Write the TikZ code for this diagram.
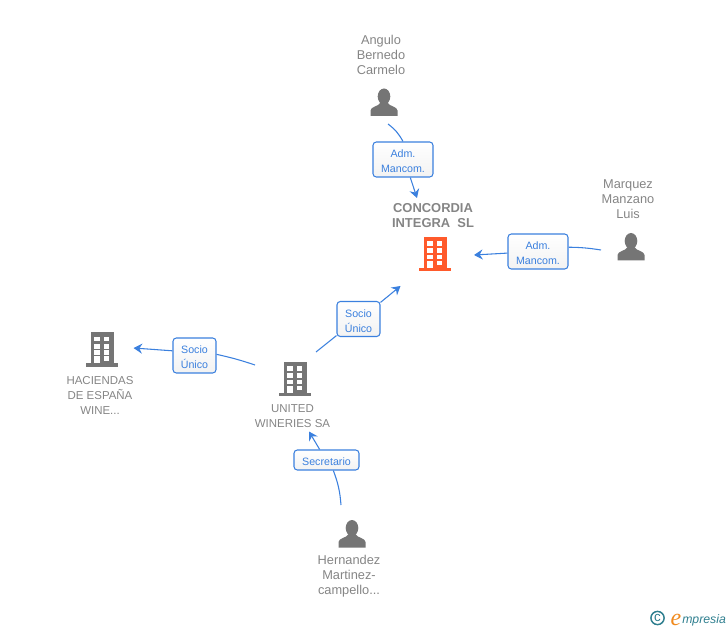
\documentclass[tikz,border=0pt]{standalone}
\usepackage{fontspec}
\setmainfont{Liberation Sans}
\newfontfamily\logofont{Liberation Serif}
\usetikzlibrary{arrows.meta}
\definecolor{linkblue}{HTML}{3B80DE}
\definecolor{iconorange}{HTML}{FF5A2B}
\definecolor{icongrey}{HTML}{757575}
\definecolor{namegrey}{HTML}{858585}
\definecolor{logoteal}{HTML}{2F7F8F}
\definecolor{logoorange}{HTML}{F08A1E}
\newcommand\rolestrut{\rule{0pt}{8.8pt}}
\tikzset{
  link/.style={draw=linkblue,line width=0.8pt},
  arrowlink/.style={link,-{Stealth[length=6.5pt,width=7.5pt,inset=2.2pt]}},
  rolebox/.style={draw=linkblue,line width=0.8pt,rounded corners=2.5pt,top color=white,bottom color=black!5,
    text=linkblue,font=\fontsize{8}{11.25}\selectfont,align=center,inner sep=0pt},
  namelabel/.style={text=namegrey,font=\fontsize{9.6}{11.25}\selectfont,align=center,inner sep=0pt},
  capslabel/.style={namelabel,font=\fontsize{8.6}{11.25}\selectfont},
  building/.pic={
    \fill[pic actions] (-11.5,-16.5) rectangle (11.5,14.5);
    \fill[pic actions] (-16,14.5) rectangle (16,18);
    \foreach \wy in {-10,-2.8,3.5}{
      \fill[white] (-7.7,\wy-2.4) rectangle (-2.4,\wy+2.4);
      \fill[white] (2,\wy-2.4) rectangle (7.4,\wy+2.4);
    }
    \fill[white] (-7.7,7.5) rectangle (-2.4,14.5);
    \fill[white] (2,7.5) rectangle (7.4,12);
  },
  person/.pic={
    \fill[pic actions] (0,-6) ellipse[x radius=6.3,y radius=8];
    \fill[pic actions] (-13.5,13.5) -- (-13.5,8) .. controls (-13.5,4) and (-5,4) .. (-3.5,0)
      -- (3.5,0) .. controls (5,4) and (13.5,4) .. (13.5,8) -- (13.5,13.5) -- cycle;
  }
}
\begin{document}
\begin{tikzpicture}[x=0.75pt,y=-0.75pt]
\useasboundingbox (0,0) rectangle (728,630);
% icons
\pic (concordiaIcon) [fill=iconorange] at (435,253.5) {building};
\pic (unitedIcon) [fill=icongrey] at (295,378.5) {building};
\pic (haciendasIcon) [fill=icongrey] at (102,349) {building};
\pic (anguloIcon) [fill=icongrey] at (384,102.5) {person};
\pic (marquezIcon) [fill=icongrey] at (631,247) {person};
\pic (hernandezIcon) [fill=icongrey] at (352,534) {person};
% names
\node[namelabel] (angulo) at (381,55) {Angulo\\Bernedo\\Carmelo};
\node[namelabel] (marquez) at (628,199) {Marquez\\Manzano\\Luis};
\node[namelabel,font=\fontsize{9.7}{11.25}\selectfont\bfseries] (concordia) at (433,216) {CONCORDIA\\INTEGRA\ \ SL};
\node[capslabel] (united) at (292.5,416.5) {UNITED\\WINERIES SA};
\node[capslabel] (haciendas) at (100,395) {HACIENDAS\\DE ESPAÑA\\WINE...};
\node[namelabel] (hernandez) at (349,576) {Hernandez\\Martinez-\\campello...};
% role boxes
\node[rolebox,minimum width=45pt,minimum height=26.25pt] (admTop) at (403,159.5) {\rolestrut Adm.\\Mancom.};
\node[rolebox,minimum width=45pt,minimum height=26.25pt] (admRight) at (538,251.5) {\rolestrut Adm.\\Mancom.};
\node[rolebox,minimum width=32.25pt,minimum height=26.25pt] (socioTop) at (358.5,319) {\rolestrut Socio\\Único};
\node[rolebox,minimum width=32.25pt,minimum height=26.25pt] (socioLeft) at (194.5,355.5) {\rolestrut Socio\\Único};
\node[rolebox,minimum width=48.75pt,minimum height=15pt] (secretario) at (326.5,460) {\rolestrut Secretario};
% free ends
\coordinate (anguloOut) at (388,124);
\coordinate (concordiaTop) at (417,198);
\coordinate (marquezOut) at (601,250);
\coordinate (concordiaRight) at (474,255);
\coordinate (unitedOut) at (316,352);
\coordinate (concordiaLow) at (400.5,286);
\coordinate (unitedLeft) at (255,365);
\coordinate (haciendasRight) at (133.5,348);
\coordinate (hernandezOut) at (341,505);
\coordinate (unitedBelow) at (309,431.5);
% connectors
\draw[link] (anguloOut) to[bend left=12] (admTop.north);
\draw[arrowlink] (admTop.-68) -- (concordiaTop);
\draw[link] (marquezOut) to[bend right=4] (admRight.8.5);
\draw[arrowlink] (admRight.183) -- (concordiaRight);
\draw[link] (unitedOut) -- (socioTop.-143);
\draw[arrowlink] (socioTop.37) -- (concordiaLow);
\draw[link] (unitedLeft) to[bend right=3] (socioLeft.3);
\draw[arrowlink] (socioLeft.168) -- (haciendasRight);
\draw[link] (hernandezOut) to[bend right=8] (secretario.-57);
\draw[arrowlink] (secretario.123) -- (unitedBelow);
% logo
\node[text=logoteal,inner sep=0pt,font=\fontsize{10}{10}\selectfont] (logoC) at (657.5,617.5) {c};
\draw[logoteal,line width=1.1pt] (logoC.center) ++(0,0.5) circle[radius=6.6];
\node[anchor=base west,inner sep=0pt,text=logoteal,font=\itshape\fontsize{9.2}{10}\selectfont] (logo) at (682,623)
  {mpresia};
\node[anchor=base east,inner sep=0pt,text=logoorange,font=\logofont\itshape\fontsize{18}{20}\selectfont] (logoE) at (681.5,625) {e};
\end{tikzpicture}
\end{document}
